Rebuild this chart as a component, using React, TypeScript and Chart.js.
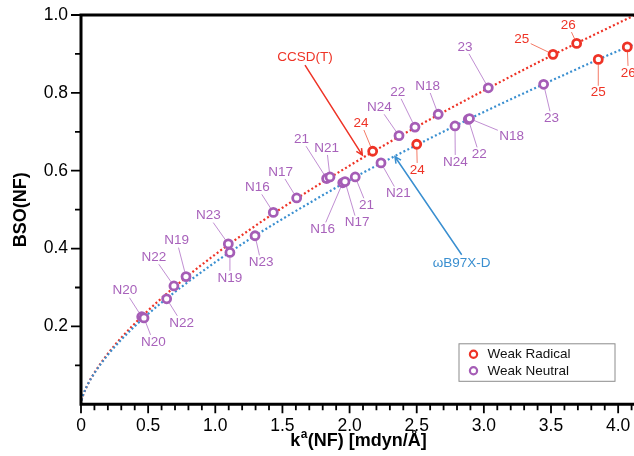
import React, { useEffect, useRef } from 'react';
import { Chart, registerables } from 'chart.js';
Chart.register(...registerables);

// ---- data ----
const curveK = [0.004, 0.02, 0.05, 0.1, 0.2, 0.3, 0.5, 0.75, 1.0, 1.25, 1.5, 2.0, 2.5, 3.0, 3.5, 4.0, 4.12];
const ccsdCurveBSO = [0.010, 0.0275, 0.051, 0.081, 0.130, 0.171, 0.241, 0.317, 0.385, 0.447, 0.505, 0.613, 0.713, 0.806, 0.895, 0.979, 0.999];
const wb97CurveBSO = [0.010, 0.028, 0.051, 0.080, 0.127, 0.166, 0.232, 0.302, 0.365, 0.423, 0.476, 0.576, 0.666, 0.751, 0.831, 0.908, 0.925];

const radicalLabels = ['24', '25', '26', '24', '25', '26'];
const radicalK = [2.172, 3.515, 3.691, 2.500, 3.852, 4.068];
const radicalBSO = [0.650, 0.899, 0.927, 0.668, 0.886, 0.918];

const neutralLabels = ['N20', 'N22', 'N19', 'N23', 'N16', 'N17', '21', 'N21', 'N24', '22', 'N18', '23',
  'N20', 'N22', 'N19', 'N23', 'N16', 'N17', '21', 'N21', 'N24', '22', 'N18', '23'];
const neutralK = [0.452, 0.692, 0.782, 1.097, 1.432, 1.606, 1.829, 1.854, 2.368, 2.487, 2.660, 3.033,
  0.469, 0.638, 1.109, 1.296, 1.949, 1.966, 2.042, 2.234, 2.785, 2.884, 2.893, 3.445];
const neutralBSO = [0.225, 0.304, 0.328, 0.412, 0.493, 0.530, 0.580, 0.584, 0.690, 0.712, 0.745, 0.813,
  0.222, 0.271, 0.390, 0.433, 0.569, 0.572, 0.584, 0.620, 0.715, 0.732, 0.734, 0.822];

const methodNames = ['CCSD(T)', 'ωB97X-D'];
const methodLabelK = [1.668, 2.835];
const methodLabelBSO = [0.892, 0.3635];
const arrowTipK = [2.095, 2.338];
const arrowTipBSO = [0.640, 0.636];

const legendLabels = ['Weak Radical', 'Weak Neutral'];
const yTitle = 'BSO(NF)';
const xTitleParts = ['k', 'a', '(NF) [mdyn/Å]'];

// ---- layout (pixel offsets of point labels from their points) ----
const radicalLabelOffsets = [[-11.7, -28.3], [-31.3, -15], [-8.4, -18.3], [0.6, 25.7], [0, 33.4], [1, 26]];
const neutralLabelOffsets = [
  [-16.7, -26], [-20, -28.7], [-9.3, -36], [-20, -28.3], [-16, -25], [-16, -26], [-25, -39.3], [-3.3, -29],
  [-19.7, -28.4], [-17.3, -35.3], [-10.6, -28.3], [-23.3, -41],
  [9.3, 24], [15, 24], [0, 25.4], [6, 26.6], [-20, 46.6], [12, 41], [11.4, 28.3], [17.3, 30.6],
  [0.3, 36], [11, 35], [42.2, 17.5], [8, 34]];
const methodArrowStartDy = [8, -8];

const FONT = '"Liberation Sans", Arial, Helvetica, sans-serif';
const RED = '#ee3326';
const BLUE = '#3a8fd0';
const PURPLE = '#a55db6';
const PURPLE_TEXT = '#a862bb';
const PURPLE_LINE = 'rgba(185,130,205,0.9)';
const RED_LINE = '#f47a66';

const zeroPad = (s: any) => {
  s.paddingLeft = 0;
  s.paddingRight = 0;
  s.paddingTop = 0;
  s.paddingBottom = 0;
};

const overlay = {
  id: 'overlay',
  beforeDatasetsDraw(chart: any) {
    const { ctx, scales: { x, y } } = chart;
    ctx.save();
    ctx.font = `13.5px ${FONT}`;
    const leader = (k: number, b: number, lab: string, off: number[], color: string) => {
      const px = x.getPixelForValue(k), py = y.getPixelForValue(b);
      const cx = px + off[0], cy = py + off[1];
      const w = ctx.measureText(lab).width;
      const hw = w / 2 + 1.5, hh = 7;
      const vx = px - cx, vy = py - cy;
      const t = Math.min(vx !== 0 ? hw / Math.abs(vx) : Infinity, vy !== 0 ? hh / Math.abs(vy) : Infinity);
      const ex = cx + vx * t, ey = cy + vy * t;
      const len = Math.hypot(vx, vy);
      const sx = px - (vx / len) * 5, sy = py - (vy / len) * 5;
      ctx.strokeStyle = color;
      ctx.lineWidth = 1;
      ctx.beginPath();
      ctx.moveTo(sx, sy);
      ctx.lineTo(ex, ey);
      ctx.stroke();
    };
    neutralLabels.forEach((l, i) => leader(neutralK[i], neutralBSO[i], l, neutralLabelOffsets[i], PURPLE_LINE));
    radicalLabels.forEach((l, i) => leader(radicalK[i], radicalBSO[i], l, radicalLabelOffsets[i], RED_LINE));
    ctx.restore();
  },
  afterDatasetsDraw(chart: any) {
    const { ctx, scales: { x, y } } = chart;
    ctx.save();
    ctx.font = `13.5px ${FONT}`;
    ctx.textAlign = 'center';
    ctx.textBaseline = 'middle';
    neutralLabels.forEach((l, i) => {
      ctx.fillStyle = PURPLE_TEXT;
      ctx.fillText(l, x.getPixelForValue(neutralK[i]) + neutralLabelOffsets[i][0], y.getPixelForValue(neutralBSO[i]) + neutralLabelOffsets[i][1]);
    });
    radicalLabels.forEach((l, i) => {
      ctx.fillStyle = RED;
      ctx.fillText(l, x.getPixelForValue(radicalK[i]) + radicalLabelOffsets[i][0], y.getPixelForValue(radicalBSO[i]) + radicalLabelOffsets[i][1]);
    });
    const colors = [RED, BLUE];
    methodNames.forEach((name, i) => {
      const lx = x.getPixelForValue(methodLabelK[i]);
      const ly = y.getPixelForValue(methodLabelBSO[i]);
      ctx.fillStyle = colors[i];
      ctx.fillText(name, lx, ly);
      const sx = lx, sy = ly + methodArrowStartDy[i];
      const ex = x.getPixelForValue(arrowTipK[i]);
      const ey = y.getPixelForValue(arrowTipBSO[i]);
      ctx.strokeStyle = colors[i];
      ctx.lineWidth = 1.5;
      ctx.beginPath();
      ctx.moveTo(sx, sy);
      ctx.lineTo(ex, ey);
      const a = Math.atan2(ey - sy, ex - sx);
      const L = 7, s = 0.45;
      ctx.moveTo(ex - L * Math.cos(a - s), ey - L * Math.sin(a - s));
      ctx.lineTo(ex, ey);
      ctx.lineTo(ex - L * Math.cos(a + s), ey - L * Math.sin(a + s));
      ctx.stroke();
    });
    ctx.restore();
  },
  afterDraw(chart: any) {
    const { ctx, chartArea: ca, scales: { x, y } } = chart;
    ctx.save();
    ctx.strokeStyle = '#000';
    ctx.lineWidth = 3;
    ctx.beginPath();
    ctx.moveTo(ca.left - 1.5, ca.top);
    ctx.lineTo(chart.width, ca.top);
    ctx.moveTo(ca.left, ca.top);
    ctx.lineTo(ca.left, ca.bottom + 1.5);
    ctx.moveTo(ca.left - 1.5, ca.bottom);
    ctx.lineTo(chart.width, ca.bottom);
    ctx.stroke();
    ctx.lineWidth = 1.8;
    ctx.beginPath();
    for (let i = 0; i <= 42; i++) {
      const px = x.getPixelForValue(i / 10);
      if (px > chart.width) break;
      const len = i % 5 === 0 ? 9 : 6;
      ctx.moveTo(px, ca.bottom);
      ctx.lineTo(px, ca.bottom + len);
    }
    for (let i = 1; i <= 10; i++) {
      const py = y.getPixelForValue(i / 10);
      const len = i % 2 === 0 ? 10 : 6;
      ctx.moveTo(ca.left, py);
      ctx.lineTo(ca.left - len, py);
    }
    ctx.stroke();
    ctx.fillStyle = '#000';
    ctx.save();
    ctx.translate(21, (ca.top + ca.bottom) / 2);
    ctx.rotate(-Math.PI / 2);
    ctx.font = `bold 18px ${FONT}`;
    ctx.textAlign = 'center';
    ctx.textBaseline = 'middle';
    ctx.fillText(yTitle, 0, 0);
    ctx.restore();
    const big = `bold 18px ${FONT}`, small = `bold 12px ${FONT}`;
    ctx.font = big;
    const w0 = ctx.measureText(xTitleParts[0]).width;
    const w2 = ctx.measureText(xTitleParts[2]).width;
    ctx.font = small;
    const w1 = ctx.measureText(xTitleParts[1]).width;
    const total = w0 + w1 + w2 + 1;
    let tx = (ca.left + ca.right) / 2 + 1 - total / 2;
    const base = 446;
    ctx.textAlign = 'left';
    ctx.textBaseline = 'alphabetic';
    ctx.font = big;
    ctx.fillText(xTitleParts[0], tx, base);
    tx += w0 + 0.5;
    ctx.font = small;
    ctx.fillText(xTitleParts[1], tx, base - 8);
    tx += w1 + 0.5;
    ctx.font = big;
    ctx.fillText(xTitleParts[2], tx, base);
    const bx = ca.right - 175.5, by = ca.bottom - 61;
    ctx.fillStyle = '#fff';
    ctx.fillRect(bx, by, 156, 37.5);
    ctx.strokeStyle = '#8c8c8c';
    ctx.lineWidth = 1;
    ctx.strokeRect(bx + 0.5, by + 0.5, 156, 37.5);
    const lc = [RED, PURPLE];
    legendLabels.forEach((l, i) => {
      const cy = by + 11 + i * 16.5;
      ctx.beginPath();
      ctx.arc(bx + 15, cy, 3.6, 0, Math.PI * 2);
      ctx.strokeStyle = lc[i];
      ctx.lineWidth = 2.2;
      ctx.stroke();
      ctx.fillStyle = '#111';
      ctx.font = `13.5px ${FONT}`;
      ctx.textBaseline = 'middle';
      ctx.fillText(l, bx + 29, cy);
    });
    ctx.restore();
  },
};

export default function App() {
  const ref = useRef<HTMLCanvasElement>(null);
  useEffect(() => {
    const chart = new Chart(ref.current as HTMLCanvasElement, {
      type: 'scatter',
      data: {
        datasets: [
          {
            label: legendLabels[0],
            data: radicalK.map((k, i) => ({ x: k, y: radicalBSO[i] })),
            pointRadius: 4,
            pointBorderWidth: 2.8,
            pointBorderColor: RED,
            pointBackgroundColor: '#fff',
            clip: false,
            order: 0,
          },
          {
            label: legendLabels[1],
            data: neutralK.map((k, i) => ({ x: k, y: neutralBSO[i] })),
            pointRadius: 4,
            pointBorderWidth: 2.8,
            pointBorderColor: PURPLE,
            pointBackgroundColor: '#fff',
            clip: false,
            order: 1,
          },
          {
            label: methodNames[0],
            type: 'line',
            data: curveK.map((k, i) => ({ x: k, y: ccsdCurveBSO[i] })),
            borderColor: RED,
            borderWidth: 2.2,
            borderDash: [2, 2.4],
            pointRadius: 0,
            cubicInterpolationMode: 'monotone',
            fill: false,
            order: 3,
          },
          {
            label: methodNames[1],
            type: 'line',
            data: curveK.map((k, i) => ({ x: k, y: wb97CurveBSO[i] })),
            borderColor: BLUE,
            borderWidth: 2.2,
            borderDash: [2, 2.4],
            pointRadius: 0,
            cubicInterpolationMode: 'monotone',
            fill: false,
            order: 2,
          },
        ] as any,
      },
      options: {
        animation: false,
        responsive: false,
        maintainAspectRatio: false,
        layout: { autoPadding: false, padding: { top: 15, right: 0, left: 0, bottom: 0 } },
        plugins: { legend: { display: false }, tooltip: { enabled: false } },
        scales: {
          x: {
            type: 'linear',
            min: 0,
            max: 4.118,
            grid: { display: false, drawTicks: false },
            border: { display: false },
            ticks: {
              stepSize: 0.5,
              includeBounds: false,
              padding: 11,
              color: '#000',
              maxRotation: 0,
              autoSkip: false,
              font: { family: FONT, size: 17.5 },
              callback: (v: any) => (Number(v) === 0 ? '0' : Number(v).toFixed(1)),
            },
            afterFit: (s: any) => {
              s.height = 51.7;
              zeroPad(s);
            },
          },
          y: {
            type: 'linear',
            min: 0,
            max: 1,
            grid: { display: false, drawTicks: false },
            border: { display: false },
            ticks: {
              stepSize: 0.2,
              padding: 13,
              color: '#000',
              font: { family: FONT, size: 17.5 },
              callback: (v: any) => (Number(v) === 0 ? '' : Number(v).toFixed(1)),
            },
            afterFit: (s: any) => {
              s.width = 81;
              zeroPad(s);
            },
          },
        },
      } as any,
      plugins: [overlay],
    });
    return () => chart.destroy();
  }, []);
  return (
    <div style={{ position: 'fixed', left: 0, top: 0, width: 634, height: 456, background: '#fff' }}>
      <canvas ref={ref} width={634} height={456} style={{ display: 'block', width: 634, height: 456 }} />
    </div>
  );
}
